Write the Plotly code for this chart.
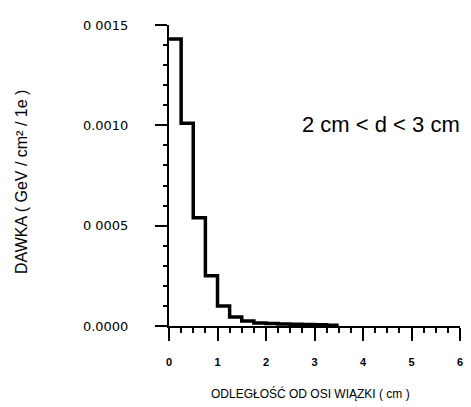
import plotly.graph_objects as go

# Dose histogram: bin edges (cm) and dose per bin (GeV / cm^2 / 1e)
bin_edges = [0.0, 0.25, 0.5, 0.75, 1.0, 1.25, 1.5, 1.75, 2.0, 2.25, 2.5,
             2.75, 3.0, 3.25, 3.5]
dose = [0.00143, 0.00101, 0.00054, 0.00025, 0.00010, 0.000045, 0.000025,
        0.000015, 0.000012, 0.000010, 0.000009, 0.000008, 0.000006,
        0.000004]

x_ticks = [0, 1, 2, 3, 4, 5, 6]
y_ticks = [0.0, 0.0005, 0.0010, 0.0015]
y_tick_text = ["0.0000", "0 0005", "0.0010", "0 0015"]

x_title = "ODLEGŁOŚĆ OD OSI WIĄZKI ( cm )"
y_title = "DAWKA ( GeV / cm² / 1e )"
range_label = "2 cm &lt; d &lt; 3 cm"

step_y = dose + [dose[-1]]

fig = go.Figure()
fig.add_trace(go.Scatter(
    x=bin_edges, y=step_y, mode="lines", line_shape="hv",
    line=dict(color="black", width=3.5), showlegend=False,
))

font = "Liberation Sans, Arial, sans-serif"

fig.update_layout(
    width=471, height=407,
    margin=dict(l=169, r=8, t=25, b=81),
    paper_bgcolor="white", plot_bgcolor="white",
    font=dict(family=font, color="black"),
    xaxis=dict(
        range=[0, 6], tickvals=x_ticks, showgrid=False, zeroline=False,
        showline=True, linecolor="black", linewidth=2,
        ticks="outside", ticklen=13, tickwidth=2, tickcolor="black",
        ticklabelstandoff=12,
        tickfont=dict(size=11, weight="bold"),
        minor=dict(dtick=0.25, ticks="outside", ticklen=5, tickwidth=1.5,
                   tickcolor="black"),
    ),
    yaxis=dict(
        range=[0, 0.0015], tickvals=y_ticks, ticktext=y_tick_text,
        showgrid=False, zeroline=False,
        showline=True, linecolor="black", linewidth=2,
        ticks="outside", ticklen=12, tickwidth=2, tickcolor="black",
        ticklabelstandoff=24,
        tickfont=dict(size=13, family="DejaVu Sans, sans-serif"),
        minor=dict(dtick=0.0001, ticks="outside", ticklen=4, tickwidth=1.5,
                   tickcolor="black"),
    ),
    annotations=[
        dict(text=range_label, xref="paper", yref="paper",
             x=0.728, y=0.671, xanchor="center", yanchor="middle",
             showarrow=False, font=dict(size=22, color="black")),
        dict(text=x_title, xref="paper", yref="paper",
             x=0.485, y=-0.2226, xanchor="center", yanchor="middle",
             showarrow=False, font=dict(size=12, color="black")),
        dict(text=y_title, xref="paper", yref="paper", textangle=-90,
             x=-0.507, y=0.48, xanchor="center", yanchor="middle",
             showarrow=False, font=dict(size=16, color="black")),
    ],
)

fig.write_html("out.html")
